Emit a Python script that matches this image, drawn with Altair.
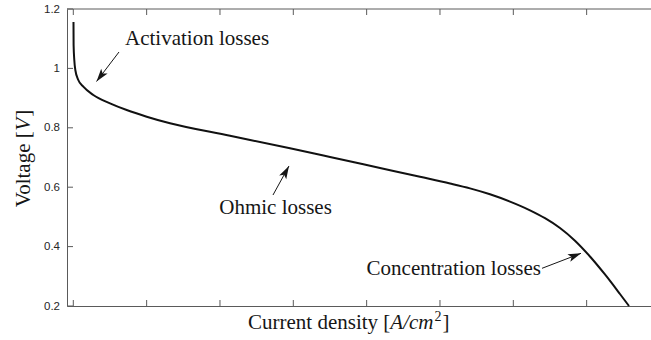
import altair as alt
import numpy as np
import pandas as pd

# Fuel-cell polarization curve: current density (A/cm^2) vs cell voltage (V)
current = [0.0005, 0.0008, 0.0027, 0.0055, 0.0136, 0.0273, 0.0545, 0.1001, 0.1456, 0.2002,
           0.2637, 0.4274, 0.5910, 0.7001, 0.8365, 0.9455, 1.0274, 1.0819, 1.1364, 1.1910,
           1.2455, 1.2864, 1.3273, 1.3682, 1.4091, 1.4500, 1.4909, 1.5155]
voltage = [1.156, 1.0788, 1.0283, 0.9946, 0.9609, 0.9384, 0.9104, 0.8825, 0.8599, 0.8374,
           0.8152, 0.7731, 0.7310, 0.7017, 0.6646, 0.6350, 0.6125, 0.5960, 0.5761, 0.5515,
           0.5222, 0.4956, 0.4626, 0.4199, 0.3667, 0.3061, 0.2404, 0.2000]

x_ticks = [0.0, 0.2, 0.4, 0.6, 0.8, 1.0, 1.2, 1.4]
y_ticks = [0.2, 0.4, 0.6, 0.8, 1.0, 1.2]

# Annotations: text anchor and arrow from / to points (data units)
labels = ["Activation losses", "Ohmic losses", "Concentration losses"]
label_x = [0.1410, 0.5515, 1.2755]
label_y = [1.0788, 0.5098, 0.3044]
label_align = ["left", "center", "right"]

arrow_from_x = [0.1246, 0.5446, 1.2783]
arrow_from_y = [1.0552, 0.5737, 0.3269]
arrow_to_x = [0.0633, 0.5882, 1.3846]
arrow_to_y = [0.9559, 0.6714, 0.3774]

# Axis titles, written in pieces so the math part can be italic
x_title_parts = ["Current density [", "A/cm", "2", "]"]
y_title_parts = ["Voltage [", "V", "]"]

W, H = 584, 297
X_DOM = [-0.0172, 1.5755]
Y_DOM = [0.2, 1.2]
AXIS_GREY = "#5a5a5a"
INK = "#161616"
SERIF = "Liberation Serif"
FS = 21

xs = alt.Scale(domain=X_DOM, nice=False, zero=False)
ys = alt.Scale(domain=Y_DOM, nice=False, zero=False)

curve_df = pd.DataFrame({"i": current, "v": voltage})
xt_df = pd.DataFrame({"i": x_ticks})
yt_df = pd.DataFrame({"v": y_ticks})

curve = alt.Chart(curve_df).mark_line(
    color="#111111", strokeWidth=2, interpolate="monotone"
).encode(
    x=alt.X("i:Q", scale=xs, axis=alt.Axis(
        orient="bottom", labels=False, ticks=False, domain=True, grid=False,
        title=None)),
    y=alt.Y("v:Q", scale=ys, axis=alt.Axis(
        orient="left", values=y_ticks, format="~g", ticks=False, domain=True,
        labelPadding=7.5, grid=False, title=None)),
)

# inward ticks on the bottom, top and left edges
xtick_bottom = alt.Chart(xt_df).mark_rule(color=AXIS_GREY, strokeWidth=1).encode(
    x=alt.X("i:Q", scale=xs),
    y=alt.value(H), y2=alt.value(H - 6),
)
xtick_top = alt.Chart(xt_df).mark_rule(color=AXIS_GREY, strokeWidth=1).encode(
    x=alt.X("i:Q", scale=xs),
    y=alt.value(0), y2=alt.value(6),
)
ytick_left = alt.Chart(yt_df).mark_rule(color=AXIS_GREY, strokeWidth=1).encode(
    y=alt.Y("v:Q", scale=ys),
    x=alt.value(0), x2=alt.value(6),
)
# top edge of the box, at the upper end of the voltage scale
top_edge = alt.Chart(pd.DataFrame({"v": [Y_DOM[1]]})).mark_rule(
    color=AXIS_GREY, strokeWidth=1
).encode(
    y=alt.Y("v:Q", scale=ys),
    x=alt.value(0), x2=alt.value(W),
)

# arrows: shafts and heads
px_x = W / (X_DOM[1] - X_DOM[0])
px_y = H / (Y_DOM[1] - Y_DOM[0])
shaft_rows = []
head_rows = []
for k in range(len(labels)):
    shaft_rows.append({"a": k, "o": 0, "i": arrow_from_x[k], "v": arrow_from_y[k]})
    shaft_rows.append({"a": k, "o": 1, "i": arrow_to_x[k], "v": arrow_to_y[k]})
    dx = (arrow_to_x[k] - arrow_from_x[k]) * px_x
    dy_up = (arrow_to_y[k] - arrow_from_y[k]) * px_y
    ang = float(np.degrees(np.arctan2(dx, dy_up)) % 360)
    head_rows.append({"i": arrow_to_x[k], "v": arrow_to_y[k], "ang": ang})

shafts = alt.Chart(pd.DataFrame(shaft_rows)).mark_line(
    color=INK, strokeWidth=1
).encode(
    x=alt.X("i:Q", scale=xs),
    y=alt.Y("v:Q", scale=ys),
    detail="a:N", order="o:Q",
)

HEAD = "M0,0 L0.62,2 L0,1.55 L-0.62,2 Z"
heads = alt.Chart(pd.DataFrame(head_rows)).mark_point(
    shape=HEAD, filled=True, size=169, color=INK, opacity=1
).encode(
    x=alt.X("i:Q", scale=xs),
    y=alt.Y("v:Q", scale=ys),
    angle=alt.Angle("ang:Q", scale=None),
)

texts = []
for k in range(len(labels)):
    tdf = pd.DataFrame({"i": [label_x[k]], "v": [label_y[k]], "s": [labels[k]]})
    texts.append(
        alt.Chart(tdf).mark_text(
            font=SERIF, fontSize=FS, align=label_align[k],
            baseline="alphabetic", color=INK
        ).encode(
            x=alt.X("i:Q", scale=xs),
            y=alt.Y("v:Q", scale=ys),
            text="s:N",
        )
    )


def title_piece(s, x, y, size=FS, style="normal", angle=0):
    kw = dict(font=SERIF, fontSize=size, fontStyle=style, align="left",
              baseline="alphabetic", color=INK)
    if angle:
        kw["angle"] = angle
    return alt.Chart(pd.DataFrame({"s": [s]})).mark_text(**kw).encode(
        x=alt.value(x), y=alt.value(y), text="s:N"
    )


# x title: "Current density [" + italic "A/cm" + superscript "2" + "]"
XT_BASE = H + 23
XT_LEFT = 248 - 67
x_title = [
    title_piece(x_title_parts[0], XT_LEFT, XT_BASE),
    title_piece(x_title_parts[1], XT_LEFT + 142.3, XT_BASE, style="italic"),
    title_piece(x_title_parts[2], XT_LEFT + 186.5, XT_BASE - 8, size=14),
    title_piece(x_title_parts[3], XT_LEFT + 194.5, XT_BASE),
]

# y title, rotated to read upwards: "Voltage [" + italic "V" + "]"
YT_X = 29.5 - 67
YT_START = 158 - 9 + 49.3
y_title = [
    title_piece(y_title_parts[0], YT_X, YT_START, angle=270),
    title_piece(y_title_parts[1], YT_X, YT_START - 76.5, style="italic", angle=270),
    title_piece(y_title_parts[2], YT_X, YT_START - 90.5, angle=270),
]

chart = alt.layer(
    curve, xtick_bottom, xtick_top, ytick_left, top_edge, shafts, heads,
    *texts, *x_title, *y_title
).properties(
    width=W, height=H,
    padding={"left": 67, "top": 9, "right": 0, "bottom": 34},
    autosize="none",
    background="white",
).configure_view(
    stroke=None
).configure_axis(
    domainColor=AXIS_GREY, domainWidth=1,
    labelFont="Liberation Sans", labelFontSize=11.5, labelColor="#262626",
)

chart.save("out.html", embed_options={"renderer": "svg", "actions": False})
